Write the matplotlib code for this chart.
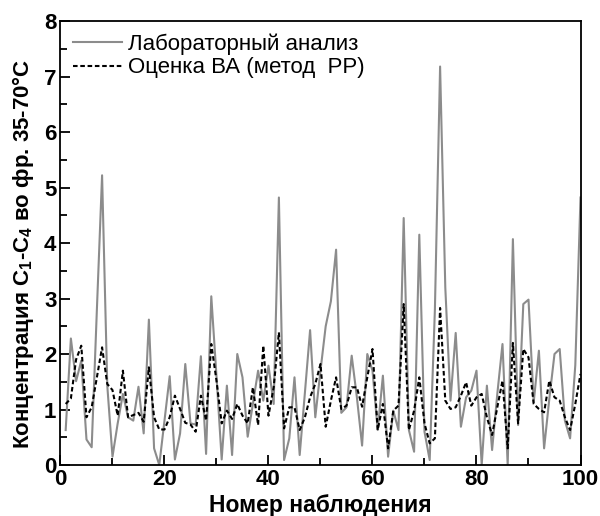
import numpy as np
import matplotlib
matplotlib.use("Agg")
from matplotlib import pyplot as plt
from matplotlib.ticker import MultipleLocator

plt.rcParams['font.family'] = ['Liberation Sans', 'DejaVu Sans']
plt.rcParams['mathtext.fontset'] = 'custom'
plt.rcParams['mathtext.rm'] = 'Liberation Sans:bold'
plt.rcParams['mathtext.bf'] = 'Liberation Sans:bold'

# номер наблюдения
obs = np.arange(1, 101)

# лабораторный анализ
lab = [0.63, 2.28, 1.51, 1.88, 0.46, 0.32, 2.8, 5.22, 1.43, 0.15,
       0.75, 1.28, 0.86, 0.8, 1.41, 0.57, 2.62, 0.30, 0.0, 0.8,
       1.6, 0.1, 0.57, 1.82, 0.75, 0.73, 1.96, 0.2, 3.04, 1.6,
       0.1, 1.43, 0.18, 2.0, 1.58, 0.51, 1.1, 1.7, 1.16, 1.79,
       1.1, 4.82, 0.09, 0.48, 1.58, 0.18, 1.3, 2.43, 0.86, 1.7,
       2.5, 2.95, 3.88, 0.94, 1.04, 1.97, 1.22, 0.35, 2.0, 1.7,
       0.63, 1.61, 0.15, 0.98, 0.63, 4.45, 0.63, 0.24, 4.15, 0.6,
       0.09, 2.8, 7.18, 3.2, 1.16, 2.38, 0.69, 1.22, 1.34, 1.7,
       0.0, 1.43, 0.27, 1.28, 2.18, 0.0, 4.07, 0.72, 2.9, 2.98,
       1.13, 2.06, 0.3, 1.19, 2.0, 2.09, 0.8, 0.48, 1.8, 4.82]

# оценка ВА (метод РР)
est = [1.1, 1.2, 1.9, 2.15, 0.86, 1.04, 1.58, 2.12, 1.46, 1.35,
       0.89, 1.7, 0.86, 0.9, 0.94, 0.78, 1.76, 0.86, 0.64, 0.64,
       0.86, 1.25, 1.01, 0.76, 0.73, 0.6, 1.25, 0.8, 2.18, 1.52,
       0.75, 0.98, 0.83, 1.1, 0.89, 0.75, 1.4, 0.72, 2.15, 0.89,
       1.4, 2.39, 0.66, 1.04, 1.04, 0.63, 0.86, 1.22, 1.46, 1.82,
       0.69, 1.16, 1.58, 1.01, 1.07, 1.4, 1.4, 1.05, 1.58, 2.09,
       0.63, 1.1, 0.3, 0.98, 1.07, 2.9, 0.63, 0.98, 1.58, 0.75,
       0.39, 0.48, 2.83, 1.16, 1.01, 1.04, 1.25, 1.49, 1.07, 1.22,
       1.28, 0.86, 0.54, 1.04, 1.52, 0.3, 2.2, 0.75, 2.09, 1.94,
       1.1, 1.01, 0.95, 1.52, 1.22, 1.16, 0.86, 0.63, 1.1, 1.64]

fig = plt.figure(figsize=(6, 5.16), dpi=100)
ax = fig.add_axes([0.1008, 0.0988, 0.8667, 0.8605])

ax.plot(obs, lab, color='#8c8c8c', lw=1.5, label='Лабораторный анализ')
ax.plot(obs, est, color='black', lw=1.5, linestyle=(0, (2.2, 1.3)),
        label='Оценка ВА (метод  РР)')

ax.set_xlim(0, 100)
ax.set_ylim(0, 8)
ax.xaxis.set_major_locator(MultipleLocator(20))
ax.xaxis.set_minor_locator(MultipleLocator(10))
ax.yaxis.set_major_locator(MultipleLocator(1))
ax.yaxis.set_minor_locator(MultipleLocator(0.5))
ax.tick_params(which='both', direction='in', top=False, right=False, width=1.3)
ax.tick_params(which='major', length=7, labelsize=16, pad=3)
ax.tick_params(which='minor', length=5)
for lbl in ax.get_xticklabels() + ax.get_yticklabels():
    lbl.set_fontweight('bold')
for sp in ax.spines.values():
    sp.set_linewidth(1.3)

ax.set_xlabel('Номер наблюдения', fontsize=16.5, fontweight='bold')
ax.set_ylabel('Концентрация C$_{1}$-C$_{4}$ во фр. 35-70°C', fontsize=16,
              fontweight='bold')
ax.xaxis.set_label_coords(0.5, -0.066)
ax.yaxis.set_label_coords(-0.047, 0.475)

ax.legend(loc='upper left', frameon=False, fontsize=16, handlelength=2.2,
          borderaxespad=0.15, labelspacing=0.12, handletextpad=0.3)

plt.savefig('out.png', dpi=100)
